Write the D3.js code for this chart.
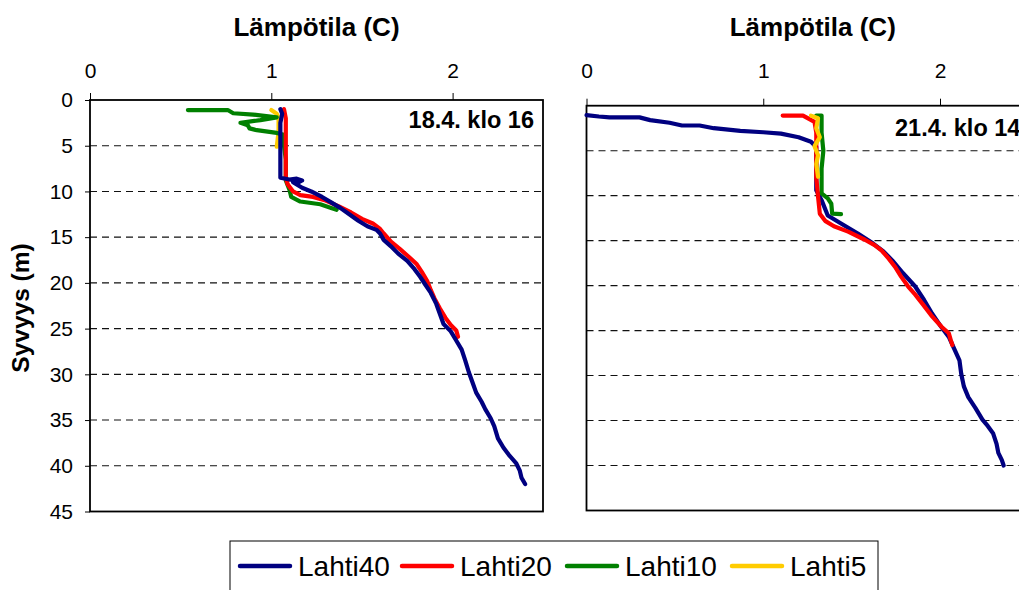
<!DOCTYPE html>
<html>
<head>
<meta charset="utf-8">
<script src="https://cdn.jsdelivr.net/npm/d3@7"></script>
<style>
  body { margin: 0; background: #fff; }
  svg { font-family: "Liberation Sans", Arial, sans-serif; }
</style>
</head>
<body>
<div id="chart"></div>
<script>
"use strict";

// depth profiles, [temperature C, depth m]
const series = ["Lahti40", "Lahti20", "Lahti10", "Lahti5"];
const colors = ["#000080", "#ff0000", "#008000", "#ffcc00"];
const xTicks = [0, 1, 2];
const yTicks = [0, 5, 10, 15, 20, 25, 30, 35, 40, 45];
const gridDepths = [5, 10, 15, 20, 25, 30, 35, 40];

// 18.4. klo 16
const lahti40_a = [[1.05,1.0],[1.06,1.5],[1.05,2.5],[1.05,4],[1.05,6],[1.05,8],[1.05,8.5],[1.10,8.7],[1.14,8.6],[1.17,8.8],[1.15,9.0],[1.12,9.0],[1.17,9.6],[1.22,10.0],[1.28,10.6],[1.33,11.2],[1.38,11.8],[1.43,12.5],[1.48,13.2],[1.53,13.8],[1.58,14.2],[1.60,14.6],[1.62,15.3],[1.66,16.0],[1.70,16.8],[1.75,17.6],[1.79,18.5],[1.82,19.3],[1.85,20.2],[1.88,21.1],[1.91,22.3],[1.93,23.4],[1.95,24.5],[1.99,25.3],[2.02,26.3],[2.05,27.3],[2.07,28.5],[2.09,29.8],[2.11,30.9],[2.13,32.0],[2.16,33.0],[2.18,33.8],[2.21,34.8],[2.23,35.7],[2.25,37.0],[2.28,38.0],[2.31,38.8],[2.35,39.7],[2.37,40.5],[2.38,41.3],[2.40,42.0]];
const lahti20_a = [[1.07,1.0],[1.08,2],[1.08,4],[1.08,6],[1.08,8.5],[1.09,9.2],[1.12,10.0],[1.16,10.4],[1.23,10.6],[1.30,11.0],[1.37,11.6],[1.44,12.3],[1.50,13.0],[1.56,13.5],[1.60,14.1],[1.62,14.6],[1.66,15.5],[1.71,16.3],[1.75,17.0],[1.80,17.9],[1.83,18.8],[1.86,19.8],[1.88,20.8],[1.90,21.7],[1.93,22.8],[1.96,23.8],[1.99,24.6],[2.02,25.2],[2.03,25.9]];
const lahti10_a = [[0.54,1.1],[0.76,1.1],[0.79,1.45],[0.90,1.6],[1.03,1.9],[0.94,2.2],[0.83,2.5],[0.87,2.75],[0.88,3.1],[0.92,3.3],[1.03,3.6],[1.07,3.8],[1.07,5],[1.08,6.5],[1.08,8],[1.08,8.8],[1.10,9.8],[1.11,10.6],[1.16,11.1],[1.27,11.4],[1.33,11.8],[1.36,12.0]];
const lahti5_a = [[1.00,1.1],[1.03,1.5],[1.04,2],[1.04,3.5],[1.03,5.1]];

// 21.4. klo 14
const lahti40_b = [[0.0,1.05],[0.07,1.2],[0.13,1.3],[0.30,1.3],[0.36,1.6],[0.47,1.9],[0.54,2.2],[0.64,2.2],[0.72,2.5],[0.87,2.8],[1.00,2.95],[1.10,3.1],[1.20,3.5],[1.27,4.0],[1.30,4.6],[1.30,6],[1.30,8],[1.30,9.4],[1.33,10.5],[1.365,12.2],[1.44,13.1],[1.535,14.2],[1.62,15.3],[1.68,16.2],[1.73,17.2],[1.79,18.6],[1.86,20.1],[1.91,21.6],[1.955,23.1],[2.00,24.4],[2.05,25.7],[2.08,27.0],[2.11,28.3],[2.12,29.8],[2.135,31.2],[2.16,32.4],[2.20,33.6],[2.24,34.9],[2.27,35.6],[2.30,36.4],[2.32,37.6],[2.33,38.6],[2.35,39.4],[2.36,40.0]];
const lahti20_b = [[1.11,1.1],[1.225,1.1],[1.29,1.8],[1.30,3],[1.30,6],[1.30,8],[1.31,10.1],[1.32,12.0],[1.35,12.8],[1.40,13.4],[1.48,14.0],[1.575,14.9],[1.63,15.5],[1.67,16.1],[1.71,17.0],[1.745,17.9],[1.78,19.0],[1.82,20.1],[1.86,21.0],[1.90,22.0],[1.95,23.3],[2.01,24.6],[2.05,25.3],[2.06,26.0],[2.07,26.6]];
const lahti10_b = [[1.30,1.1],[1.33,1.1],[1.33,3],[1.34,5],[1.33,7],[1.33,9.75],[1.365,10.3],[1.385,10.9],[1.39,12.0],[1.44,12.05]];
const lahti5_b = [[1.27,1.1],[1.31,1.4],[1.30,2.5],[1.32,3.5],[1.29,4.5],[1.31,5.5],[1.30,6.5],[1.31,7.9]];

const width = 1019, height = 590;

var svg = d3.select("#chart").append("svg")
    .attr("width", width)
    .attr("height", height);

// panel layout; order = draw order (last on top)
var panels = [
    { label: "18.4. klo 16", left: 90, right: 543, x2: 452.6, top: 100, bottom: 511.5,
      data: [lahti40_a, lahti20_a, lahti10_a, lahti5_a], order: [3, 2, 1, 0], yLabels: true,
      labelX: 534, labelY: 128, anchor: "end" },
    { label: "21.4. klo 14", left: 586.5, right: 1039, x2: 940, top: 105.7, bottom: 510.5,
      data: [lahti40_b, lahti20_b, lahti10_b, lahti5_b], order: [0, 2, 1, 3], yLabels: false,
      labelX: 895, labelY: 136, anchor: "start" }
];

var tickLabelY = 78; // baseline of the top tick labels, same for both panels

panels.forEach(function(p) {
    var x = d3.scaleLinear().domain([0, 2]).range([p.left, p.x2]);
    var y = d3.scaleLinear().domain([0, 45]).range([p.top, p.bottom]);
    var g = svg.append("g");

    // dashed gridlines
    g.selectAll("line.grid")
        .data(gridDepths)
        .enter().append("line")
        .attr("class", "grid")
        .attr("x1", p.left).attr("x2", p.right)
        .attr("y1", function(d) { return y(d); })
        .attr("y2", function(d) { return y(d); })
        .attr("stroke", "#111")
        .attr("stroke-width", 1.1)
        .attr("stroke-dasharray", "7,5");

    // frame
    g.append("rect")
        .attr("x", p.left).attr("y", p.top)
        .attr("width", p.right - p.left).attr("height", p.bottom - p.top)
        .attr("fill", "none")
        .attr("stroke", "#000")
        .attr("stroke-width", 1.8);

    var xAxis = g.append("g")
        .attr("transform", "translate(0," + p.top + ")")
        .call(d3.axisTop(x).tickValues(xTicks).tickSize(7).tickSizeOuter(0).tickFormat(d3.format("d")));
    xAxis.select(".domain").remove();
    xAxis.selectAll("text")
        .attr("y", tickLabelY - p.top)
        .attr("dy", null)
        .style("font-size", "21px")
        .attr("fill", "#000");
    xAxis.selectAll("line").attr("stroke", "#000");

    if (p.yLabels) {
        var yAxis = g.append("g")
            .attr("transform", "translate(" + p.left + ",0)")
            .call(d3.axisLeft(y).tickValues(yTicks).tickSize(5).tickSizeOuter(0).tickPadding(12));
        yAxis.select(".domain").remove();
        yAxis.selectAll("text").style("font-size", "21px").attr("fill", "#000");
        yAxis.selectAll("line").attr("stroke", "#000");
    }

    // axis title
    svg.append("text")
        .attr("x", (p.left + p.right) / 2)
        .attr("y", 36)
        .attr("text-anchor", "middle")
        .style("font-size", "26px")
        .style("font-weight", "bold")
        .text("Lämpötila (C)");

    var line = d3.line()
        .x(function(d) { return x(d[0]); })
        .y(function(d) { return y(d[1]); });

    p.order.forEach(function(k) {
        g.append("path")
            .datum(p.data[k])
            .attr("d", line)
            .attr("fill", "none")
            .attr("stroke", colors[k])
            .attr("stroke-width", 4.2)
            .attr("stroke-linejoin", "round")
            .attr("stroke-linecap", "round");
    });

    g.append("text")
        .attr("x", p.labelX)
        .attr("y", p.labelY)
        .attr("text-anchor", p.anchor)
        .style("font-size", "23.5px")
        .style("font-weight", "bold")
        .text(p.label);
});

// y title
svg.append("text")
    .attr("transform", "translate(29,308) rotate(-90)")
    .attr("text-anchor", "middle")
    .style("font-size", "24.5px")
    .style("font-weight", "bold")
    .text("Syvyys (m)");

// legend
var legend = svg.append("g");
legend.append("rect")
    .attr("x", 230).attr("y", 541)
    .attr("width", 648).attr("height", 70)
    .attr("fill", "#fff")
    .attr("stroke", "#000")
    .attr("stroke-width", 1);

var legendX = [240, 402, 567, 732];
var item = legend.selectAll("g.item")
    .data(series)
    .enter().append("g")
    .attr("class", "item")
    .attr("transform", function(d, i) { return "translate(" + legendX[i] + ",566)"; });
item.append("line")
    .attr("x1", 0).attr("x2", 50)
    .attr("stroke", function(d, i) { return colors[i]; })
    .attr("stroke-width", 4.5)
    .attr("stroke-linecap", "round");
item.append("text")
    .attr("x", 58)
    .attr("dy", "0.36em")
    .style("font-size", "28px")
    .text(function(d) { return d; });
</script>
</body>
</html>
